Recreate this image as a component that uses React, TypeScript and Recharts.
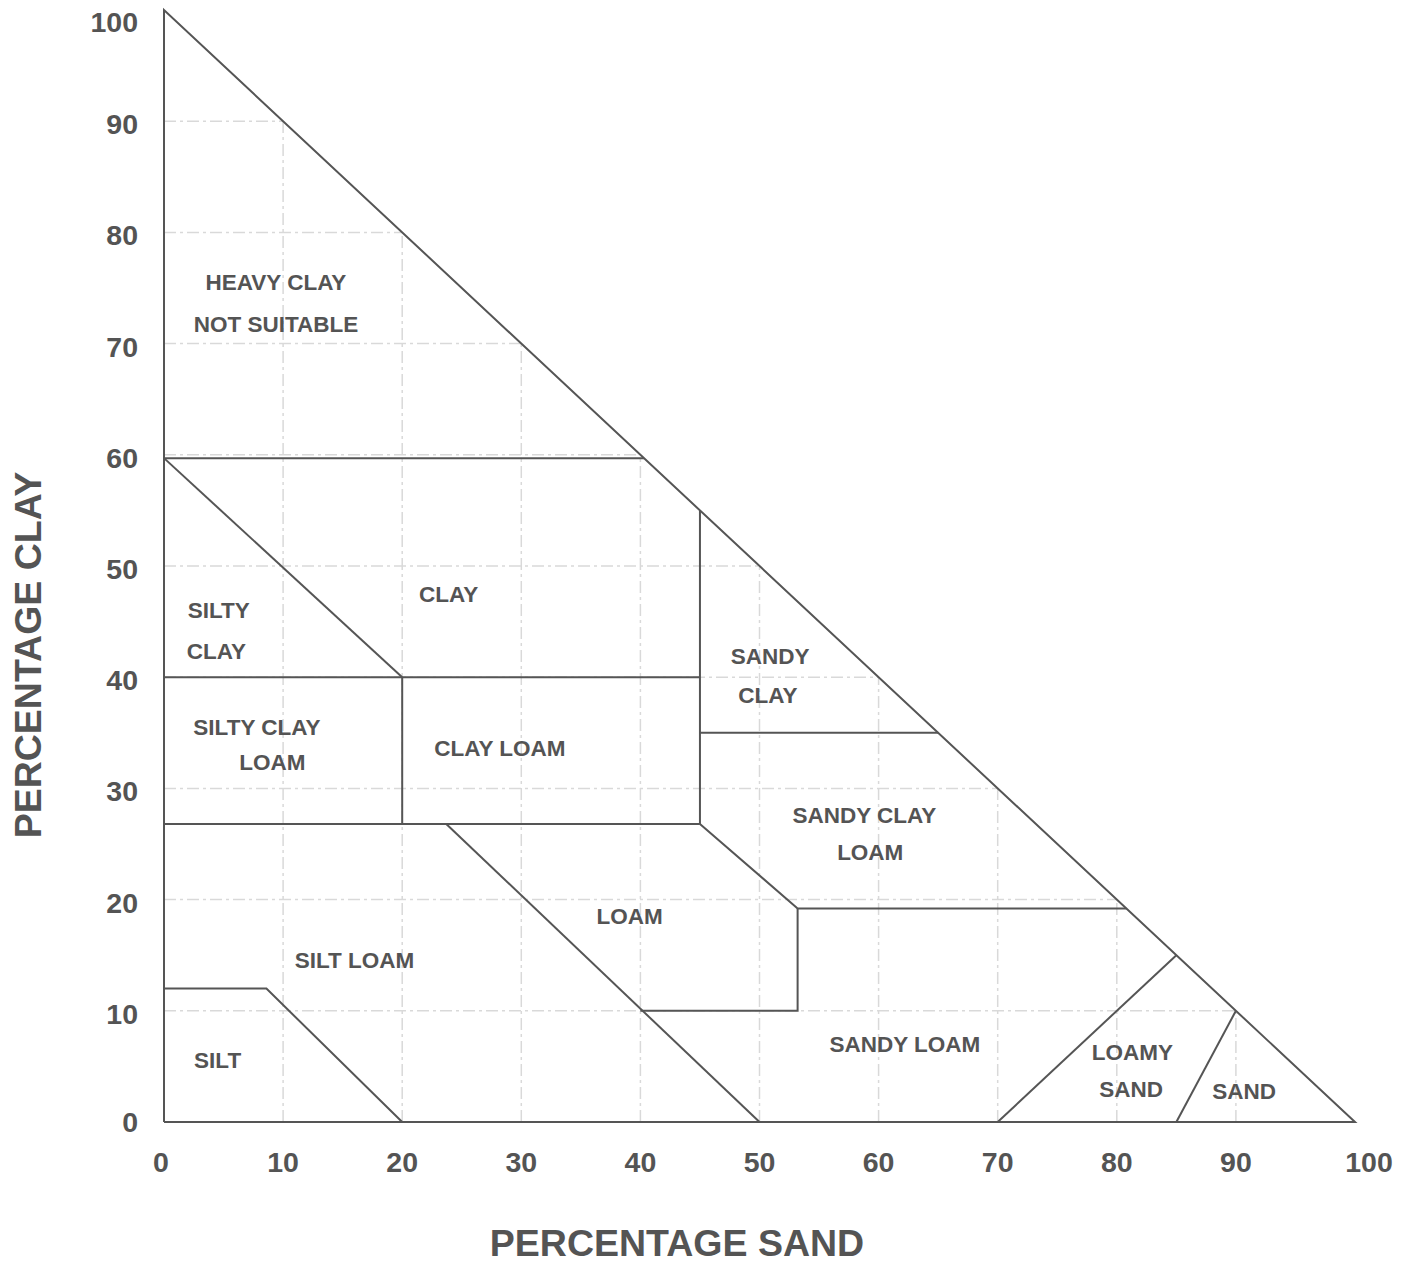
import React from 'react';
import { ComposedChart, Line, Scatter, XAxis, YAxis, ReferenceLine, Label } from 'recharts';

const SAND_TICKS = [0, 10, 20, 30, 40, 50, 60, 70, 80, 90, 100];
const CLAY_TICKS = [0, 10, 20, 30, 40, 50, 60, 70, 80, 90, 100];
const GRID_VALUES = [10, 20, 30, 40, 50, 60, 70, 80, 90];

const triangleOutline = [
  { sand: 0, clay: 0 },
  { sand: 100, clay: 0 },
  { sand: 0, clay: 100 },
  { sand: 0, clay: 0 },
];
const heavyClayBoundary = [{ sand: 0, clay: 59.7 }, { sand: 40.3, clay: 59.7 }];
const siltyClayDiagonal = [{ sand: 0, clay: 59.7 }, { sand: 20, clay: 40 }];
const clay40Boundary = [{ sand: 0, clay: 40 }, { sand: 45, clay: 40 }];
const sand20Boundary = [{ sand: 20, clay: 40 }, { sand: 20, clay: 26.8 }];
const sand45Boundary = [{ sand: 45, clay: 55 }, { sand: 45, clay: 26.8 }];
const clay27Boundary = [{ sand: 0, clay: 26.8 }, { sand: 45, clay: 26.8 }];
const sandyClayBoundary = [{ sand: 45, clay: 35 }, { sand: 65, clay: 35 }];
const sandyClayLoamBoundary = [
  { sand: 45, clay: 26.8 },
  { sand: 53.2, clay: 19.2 },
  { sand: 80.8, clay: 19.2 },
];
const loamSandyLoamBoundary = [
  { sand: 53.2, clay: 19.2 },
  { sand: 53.2, clay: 10 },
  { sand: 40, clay: 10 },
];
const loamDiagonal = [{ sand: 23.7, clay: 26.8 }, { sand: 50, clay: 0 }];
const siltBoundary = [
  { sand: 0, clay: 12 },
  { sand: 8.6, clay: 12 },
  { sand: 20, clay: 0 },
];
const loamySandBoundary = [{ sand: 70, clay: 0 }, { sand: 85, clay: 15 }];
const sandBoundary = [{ sand: 85, clay: 0 }, { sand: 90, clay: 10 }];

const BOUNDARIES = [
  triangleOutline,
  heavyClayBoundary,
  siltyClayDiagonal,
  clay40Boundary,
  sand20Boundary,
  sand45Boundary,
  clay27Boundary,
  sandyClayBoundary,
  sandyClayLoamBoundary,
  loamSandyLoamBoundary,
  loamDiagonal,
  siltBoundary,
  loamySandBoundary,
  sandBoundary,
];

const regionLabels = [
  { sand: 9.4, clay: 75.5, text: 'HEAVY CLAY' },
  { sand: 9.4, clay: 71.8, text: 'NOT SUITABLE' },
  { sand: 4.6, clay: 46.0, text: 'SILTY' },
  { sand: 4.4, clay: 42.4, text: 'CLAY' },
  { sand: 23.9, clay: 47.5, text: 'CLAY' },
  { sand: 7.8, clay: 35.5, text: 'SILTY CLAY' },
  { sand: 9.1, clay: 32.4, text: 'LOAM' },
  { sand: 28.2, clay: 33.6, text: 'CLAY LOAM' },
  { sand: 50.9, clay: 41.9, text: 'SANDY' },
  { sand: 50.7, clay: 38.4, text: 'CLAY' },
  { sand: 58.8, clay: 27.6, text: 'SANDY CLAY' },
  { sand: 59.3, clay: 24.3, text: 'LOAM' },
  { sand: 39.1, clay: 18.5, text: 'LOAM' },
  { sand: 16.0, clay: 14.6, text: 'SILT LOAM' },
  { sand: 4.5, clay: 5.6, text: 'SILT' },
  { sand: 62.2, clay: 7.0, text: 'SANDY LOAM' },
  { sand: 81.3, clay: 6.3, text: 'LOAMY' },
  { sand: 81.2, clay: 3.0, text: 'SAND' },
  { sand: 90.7, clay: 2.8, text: 'SAND' },
];

const FONT = '"Liberation Sans", Arial, Helvetica, sans-serif';
const TEXT_COLOR = '#545454';
const LINE_COLOR = '#555555';
const GRID_COLOR = '#d9d9d9';

const XTick = (props: any) => {
  const { x, y, payload } = props;
  const v = payload.value;
  const shift = v === 100 ? 14 : v === 0 ? -3 : 0;
  return (
    <text x={x + shift} y={y + 24} textAnchor="middle" fontSize={28.5} fontWeight="bold" fontFamily={FONT} fill={TEXT_COLOR}>
      {v}
    </text>
  );
};

const YTick = (props: any) => {
  const { x, y, payload } = props;
  const v = payload.value;
  const shift = v === 100 ? 12 : v === 0 ? 0 : 3;
  return (
    <text x={x} y={y + 10 + shift} textAnchor="end" fontSize={28.5} fontWeight="bold" fontFamily={FONT} fill={TEXT_COLOR}>
      {v}
    </text>
  );
};

const RegionText = (props: any) => {
  const { cx, cy, payload } = props;
  if (cx == null || cy == null) return null;
  return (
    <text x={cx} y={cy + 8} textAnchor="middle" fontSize={22.5} fontWeight="bold" fontFamily={FONT} fill={TEXT_COLOR}>
      {payload.text}
    </text>
  );
};

export default function App() {
  return (
    <div style={{ position: 'absolute', left: 0, top: 0, background: '#fff' }}>
      <ComposedChart width={1413} height={1272} margin={{ top: 10, right: 58, bottom: 40, left: 64 }}>
        <XAxis
          type="number"
          dataKey="sand"
          domain={[0, 100]}
          ticks={SAND_TICKS}
          interval={0}
          axisLine={false}
          tickLine={false}
          tickSize={6}
          tickMargin={20}
          height={110}
          tick={<XTick />}
        >
          <Label
            content={() => (
              <text x={677} y={1256} textAnchor="middle" fontSize={37.5} fontWeight="bold" fontFamily={FONT} fill={TEXT_COLOR}>
                PERCENTAGE SAND
              </text>
            )}
          />
        </XAxis>
        <YAxis
          type="number"
          dataKey="clay"
          domain={[0, 100]}
          ticks={CLAY_TICKS}
          interval={0}
          axisLine={false}
          tickLine={false}
          tickSize={6}
          tickMargin={20}
          width={100}
          tick={<YTick />}
        >
          <Label
            content={() => (
              <text
                transform="translate(28,655) rotate(-90)"
                x={0}
                y={13.4}
                textAnchor="middle"
                fontSize={37.5}
                fontWeight="bold"
                fontFamily={FONT}
                fill={TEXT_COLOR}
              >
                PERCENTAGE CLAY
              </text>
            )}
          />
        </YAxis>
        {GRID_VALUES.map((g) => (
          <ReferenceLine
            key={'v' + g}
            segment={[{ x: g, y: 0 }, { x: g, y: 100 - g }]}
            stroke={GRID_COLOR}
            strokeWidth={1.5}
            strokeDasharray="12 4 3 4"
          />
        ))}
        {GRID_VALUES.map((g) => (
          <ReferenceLine
            key={'h' + g}
            segment={[{ x: 0, y: g }, { x: 100 - g, y: g }]}
            stroke={GRID_COLOR}
            strokeWidth={1.5}
            strokeDasharray="12 4 3 4"
          />
        ))}
        {BOUNDARIES.map((seg, i) => (
          <Line
            key={'b' + i}
            data={seg}
            dataKey="clay"
            type="linear"
            stroke={LINE_COLOR}
            strokeWidth={2}
            dot={false}
            activeDot={false}
            isAnimationActive={false}
            legendType="none"
          />
        ))}
        <Scatter data={regionLabels} dataKey="clay" shape={<RegionText />} isAnimationActive={false} />
      </ComposedChart>
    </div>
  );
}
